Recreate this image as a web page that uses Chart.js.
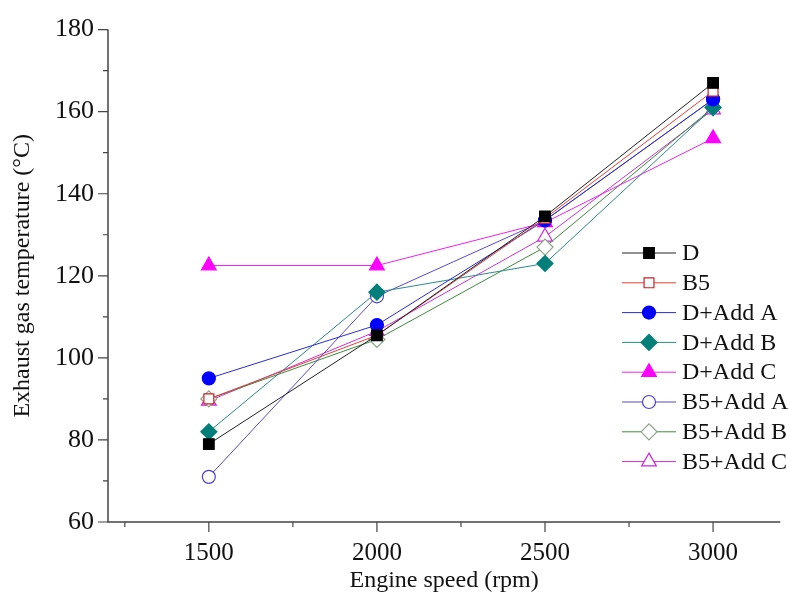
<!DOCTYPE html>
<html>
<head>
<meta charset="utf-8">
<title>Exhaust gas temperature</title>
<script src="https://cdn.jsdelivr.net/npm/chart.js@4/dist/chart.umd.min.js"></script>
<style>
  html, body { margin: 0; padding: 0; background: #fff; }
  #wrap { width: 790px; height: 601px; }
</style>
</head>
<body>
<div id="wrap"><canvas id="graphique"></canvas></div>
<script>
// engine speeds (rpm)
const vitesses = [1500, 2000, 2500, 3000];

// exhaust gas temperature (°C) per fuel blend
const tempD = [79, 105.5, 134.5, 167];
const tempB5 = [90, 105.5, 134, 165];
const tempDAddA = [95, 108, 133.5, 163];
const tempDAddB = [82, 116, 123, 161];
const tempDAddC = [122.5, 122.5, 133, 153.5];
const tempB5AddA = [71, 115, 133.5, 163];
const tempB5AddB = [90, 104.5, 127, 161];
const tempB5AddC = [89.5, 106.5, 129.5, 160.5];

const ticksX = [1500, 2000, 2500, 3000];
const ticksXMineurs = [1250, 1750, 2250, 2750];
const ticksY = [60, 80, 100, 120, 140, 160, 180];
const ticksYMineurs = [70, 90, 110, 130, 150, 170];

const police = 'Liberation Serif, Times New Roman, serif';

const serie = (label, valeurs, couleur, style, rayon, fond, marqueur) => ({
  label: label,
  data: vitesses.map((v, i) => ({ x: v, y: valeurs[i] })),
  borderColor: couleur,
  borderWidth: 1,
  pointStyle: style,
  pointRadius: rayon,
  pointHoverRadius: rayon,
  pointBackgroundColor: fond,
  pointBorderColor: marqueur || couleur,
  pointBorderWidth: 1.2,
  tension: 0,
  fill: false
});

const series = [
  serie('D', tempD, '#222222', 'rect', 7.5, '#000000', '#000000'),
  serie('B5', tempB5, '#e0403a', 'rect', 7, '#ffffff', '#d02020'),
  serie('D+Add A', tempDAddA, '#2a2ad8', 'circle', 6.5, '#0000ff', '#0000ff'),
  serie('D+Add B', tempDAddB, '#2a8a8a', 'rectRot', 8, '#007f7a', '#007f7a'),
  serie('D+Add C', tempDAddC, '#f020f0', 'triangle', 8.5, '#ff00ff', '#ff00ff'),
  serie('B5+Add A', tempB5AddA, '#5a48d0', 'circle', 6.5, '#ffffff', '#4a40d0'),
  serie('B5+Add B', tempB5AddB, '#3c8c3c', 'rectRot', 8, '#ffffff', '#8aa48a'),
  serie('B5+Add C', tempB5AddC, '#cc30d8', 'triangle', 8.5, '#ffffff', '#d020e0')
];

// axis lines with major / minor tick marks
const axesPlugin = {
  id: 'axes',
  afterDraw(chart) {
    const { ctx, chartArea, scales } = chart;
    const sx = scales.x, sy = scales.y;
    ctx.save();
    ctx.strokeStyle = '#444444';
    ctx.lineWidth = 1.5;
    ctx.beginPath();
    ctx.moveTo(chartArea.left, chartArea.top);
    ctx.lineTo(chartArea.left, chartArea.bottom);
    ctx.lineTo(chartArea.right, chartArea.bottom);
    ctx.stroke();
    ctx.lineWidth = 1.2;
    ctx.beginPath();
    ticksX.forEach(v => {
      const px = sx.getPixelForValue(v);
      ctx.moveTo(px, chartArea.bottom);
      ctx.lineTo(px, chartArea.bottom + 10);
    });
    ticksXMineurs.forEach(v => {
      const px = sx.getPixelForValue(v);
      ctx.moveTo(px, chartArea.bottom);
      ctx.lineTo(px, chartArea.bottom + 5);
    });
    ticksY.forEach(v => {
      const py = sy.getPixelForValue(v);
      ctx.moveTo(chartArea.left, py);
      ctx.lineTo(chartArea.left - 10, py);
    });
    ticksYMineurs.forEach(v => {
      const py = sy.getPixelForValue(v);
      ctx.moveTo(chartArea.left, py);
      ctx.lineTo(chartArea.left - 5, py);
    });
    ctx.stroke();
    ctx.restore();
  }
};

// legend: short line with the marker in the middle, label on the right
const legendePlugin = {
  id: 'legende',
  afterDatasetsDraw(chart) {
    const ctx = chart.ctx;
    const x0 = 622, x1 = 676, xm = 649, xt = 682;
    ctx.save();
    chart.data.datasets.forEach((ds, i) => {
      const y = 253 + i * 29.8;
      ctx.strokeStyle = ds.borderColor;
      ctx.lineWidth = 1;
      ctx.beginPath();
      ctx.moveTo(x0, y);
      ctx.lineTo(x1, y);
      ctx.stroke();
      ctx.fillStyle = ds.pointBackgroundColor;
      ctx.strokeStyle = ds.pointBorderColor;
      ctx.lineWidth = ds.pointBorderWidth;
      Chart.helpers.drawPoint(ctx, { pointStyle: ds.pointStyle, radius: ds.pointRadius, rotation: 0, borderWidth: ds.pointBorderWidth }, xm, y);
      ctx.fillStyle = '#111111';
      ctx.font = '24px ' + police;
      ctx.textBaseline = 'middle';
      ctx.textAlign = 'left';
      ctx.fillText(ds.label, xt, y + 1);
    });
    ctx.restore();
  }
};

new Chart(document.getElementById('graphique'), {
  type: 'line',
  data: { datasets: series },
  options: {
    responsive: true,
    maintainAspectRatio: false,
    animation: false,
    events: [],
    layout: { padding: { top: 24, right: 8, left: 0, bottom: 0 } },
    plugins: {
      legend: { display: false },
      tooltip: { enabled: false }
    },
    scales: {
      x: {
        type: 'linear',
        min: 1200,
        max: 3200,
        afterBuildTicks: axis => { axis.ticks = ticksX.map(v => ({ value: v })); },
        afterFit: axis => { axis.height = 79; },
        grid: { display: false, drawTicks: false },
        border: { display: false },
        ticks: {
          padding: 16,
          color: '#111111',
          font: { family: police, size: 25 },
          maxRotation: 0,
          callback: v => String(v)
        },
        title: {
          display: true,
          text: 'Engine speed (rpm)',
          color: '#111111',
          font: { family: police, size: 24 },
          padding: { bottom: 6 }
        }
      },
      y: {
        min: 60,
        max: 180,
        afterBuildTicks: axis => { axis.ticks = ticksY.map(v => ({ value: v })); },
        afterFit: axis => { axis.width = 108; },
        grid: { display: false, drawTicks: false },
        border: { display: false },
        ticks: {
          padding: 14,
          color: '#111111',
          font: { family: police, size: 26 },
          callback: v => String(v)
        },
        title: {
          display: true,
          text: 'Exhaust gas temperature (°C)',
          color: '#111111',
          font: { family: police, size: 24 },
          padding: { top: 8 }
        }
      }
    }
  },
  plugins: [axesPlugin, legendePlugin]
});
</script>
</body>
</html>
